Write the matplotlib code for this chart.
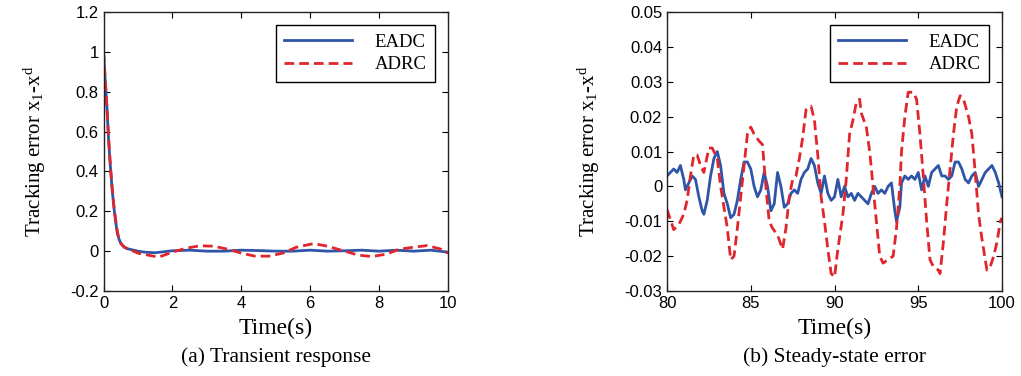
import numpy as np
import matplotlib
matplotlib.use("Agg")
import matplotlib.pyplot as plt

plt.rcParams['font.family'] = ['Liberation Sans', 'DejaVu Sans']
plt.rcParams['mathtext.fontset'] = 'custom'
plt.rcParams['mathtext.rm'] = 'Liberation Serif'
plt.rcParams['mathtext.it'] = 'Liberation Serif'

# (a) transient response
t_a = [0, 0.05, 0.1, 0.15, 0.2, 0.25, 0.3, 0.35, 0.4, 0.45, 0.5, 0.6, 0.7, 0.8, 1.0,
       1.2, 1.5, 2.0, 2.5, 3.0, 3.5, 4.0, 4.5, 5.0, 5.5, 6.0, 6.5, 7.0, 7.5, 8.0, 8.5,
       9.0, 9.5, 10.0]
eadc_a = [1.0, 0.85, 0.72, 0.55, 0.42, 0.31, 0.22, 0.15, 0.09, 0.06, 0.04, 0.02, 0.012,
          0.008, 0.0, -0.005, -0.008, 0.002, 0.005, 0.0, 0.0, 0.005, 0.003, 0.0, 0.0,
          0.005, 0.0, 0.002, 0.005, 0.0, 0.005, 0.0, 0.005, -0.005]
t_a2 = [0, 0.05, 0.1, 0.15, 0.2, 0.25, 0.3, 0.35, 0.4, 0.45, 0.5, 0.6, 0.8, 1.0, 1.3,
        1.6, 2.0, 2.4, 2.8, 3.2, 3.6, 4.0, 4.4, 4.8, 5.2, 5.6, 6.1, 6.5, 7.0, 7.4, 7.8,
        8.2, 8.6, 9.0, 9.4, 9.8, 10.0]
adrc_a = [1.0, 0.86, 0.72, 0.56, 0.43, 0.32, 0.23, 0.16, 0.1, 0.06, 0.04, 0.02, 0.005,
          -0.01, -0.02, -0.03, -0.005, 0.015, 0.027, 0.025, 0.01, -0.01, -0.025, -0.025,
          -0.01, 0.02, 0.038, 0.025, 0.0, -0.02, -0.027, -0.015, 0.01, 0.02, 0.028,
          0.01, -0.01]

# (b) steady-state error
t_b = [80.0, 80.2, 80.4, 80.6, 80.8, 81.0, 81.1, 81.3, 81.5, 81.7, 81.9, 82.1, 82.2,
       82.4, 82.6, 82.8, 83.0, 83.2, 83.4, 83.6, 83.8, 84.0, 84.2, 84.4, 84.6, 84.8,
       85.0, 85.2, 85.4, 85.6, 85.8, 86.0, 86.2, 86.4, 86.6, 86.8, 87.0, 87.2, 87.4,
       87.6, 87.8, 88.0, 88.2, 88.4, 88.6, 88.8, 89.0, 89.2, 89.4, 89.6, 89.8, 90.0,
       90.2, 90.4, 90.6, 90.8, 91.0, 91.2, 91.4, 91.6, 91.8, 92.0, 92.2, 92.4, 92.6,
       92.8, 93.0, 93.2, 93.4, 93.6, 93.7, 93.9, 94.0, 94.2, 94.4, 94.6, 94.8, 95.0,
       95.2, 95.4, 95.6, 95.8, 96.0, 96.2, 96.4, 96.6, 96.8, 97.0, 97.2, 97.4, 97.6,
       97.8, 98.0, 98.2, 98.4, 98.6, 98.8, 99.0, 99.2, 99.4, 99.6, 99.8, 100.0]
eadc_b = [0.003, 0.004, 0.005, 0.004, 0.006, 0.002, -0.001, 0.001, 0.003, 0.002,
          -0.003, -0.007, -0.008, -0.004, 0.003, 0.008, 0.010, 0.006, -0.002, -0.005,
          -0.009, -0.008, -0.004, 0.002, 0.007, 0.007, 0.005, 0.000, -0.003, -0.001,
          0.004, 0.000, -0.007, -0.005, 0.004, 0.000, -0.006, -0.005, -0.002, -0.001,
          -0.002, 0.002, 0.004, 0.005, 0.008, 0.006, 0.001, -0.002, 0.003, -0.002,
          -0.004, -0.003, 0.002, -0.003, 0.000, -0.003, -0.002, -0.004, -0.002, -0.003,
          -0.004, -0.005, -0.002, 0.000, -0.002, -0.001, -0.002, 0.000, 0.001, -0.007,
          -0.010, -0.006, 0.001, 0.003, 0.002, 0.003, 0.002, 0.004, -0.001, 0.003,
          0.000, 0.004, 0.005, 0.006, 0.003, 0.003, 0.002, 0.003, 0.007, 0.007, 0.005,
          0.002, 0.001, 0.003, 0.004, 0.000, 0.002, 0.004, 0.005, 0.006, 0.004, 0.001,
          -0.003]
t_b2 = [80.0, 80.4, 80.7, 81.0, 81.2, 81.4, 81.6, 81.8, 82.0, 82.2, 82.5, 82.7, 83.0,
        83.2, 83.4, 83.6, 83.8, 84.0, 84.2, 84.4, 84.6, 84.8, 85.0, 85.2, 85.5, 85.7,
        85.9, 86.1, 86.3, 86.6, 86.9, 87.1, 87.3, 87.5, 87.7, 87.9, 88.1, 88.3, 88.6,
        88.8, 89.0, 89.2, 89.4, 89.6, 89.8, 90.0, 90.2, 90.5, 90.7, 90.9, 91.1, 91.3,
        91.5, 91.6, 91.9, 92.1, 92.3, 92.5, 92.7, 92.9, 93.2, 93.5, 93.7, 93.9, 94.0,
        94.2, 94.4, 94.7, 94.9, 95.1, 95.3, 95.5, 95.7, 95.9, 96.2, 96.3, 96.5, 96.7,
        96.9, 97.1, 97.3, 97.5, 97.7, 98.0, 98.2, 98.4, 98.6, 98.8, 99.1, 99.3, 99.5,
        99.7, 99.9, 100.0]
adrc_b = [-0.0066, -0.0124, -0.011, -0.008, -0.004, 0.003, 0.009, 0.009, 0.006, 0.004,
          0.011, 0.011, 0.008, 0.000, -0.006, -0.012, -0.021, -0.020, -0.012, -0.003,
          0.006, 0.015, 0.017, 0.015, 0.013, 0.012, 0.000, -0.010, -0.012, -0.014,
          -0.018, -0.012, -0.003, 0.002, 0.003, 0.008, 0.014, 0.022, 0.023, 0.019,
          0.009, -0.003, -0.010, -0.018, -0.025, -0.026, -0.018, -0.008, 0.002, 0.015,
          0.019, 0.024, 0.025, 0.021, 0.017, 0.010, 0.000, -0.010, -0.020, -0.022,
          -0.021, -0.020, -0.012, 0.000, 0.010, 0.020, 0.027, 0.027, 0.025, 0.015,
          0.003, -0.010, -0.021, -0.023, -0.024, -0.025, -0.016, -0.005, 0.005, 0.015,
          0.023, 0.026, 0.025, 0.020, 0.015, 0.004, -0.008, -0.015, -0.024, -0.023,
          -0.020, -0.016, -0.010, -0.009]

blue = '#2f55a8'
red = '#e0262c'
serif = ['Liberation Serif', 'DejaVu Serif']

fig = plt.figure(figsize=(10.21, 3.76), dpi=100)
ax1 = fig.add_axes([0.1014, 0.226, 0.3374, 0.742])
ax2 = fig.add_axes([0.6533, 0.226, 0.3281, 0.742])

panels = [
    (ax1, t_a, eadc_a, t_a2, adrc_a, (0, 10), (-0.2, 1.2),
     np.arange(0, 11, 2), np.arange(-0.2, 1.21, 0.2), '(a) Transient response', 16),
    (ax2, t_b, eadc_b, t_b2, adrc_b, (80, 100), (-0.03, 0.05),
     np.arange(80, 101, 5), np.arange(-0.03, 0.051, 0.01), '(b) Steady-state error', 16),
]

for ax, tx, ye, tx2, yr, xl, yl, xt, yt, cap, ypad in panels:
    ax.plot(tx, ye, color=blue, lw=2.0, label='EADC')
    ax.plot(tx2, yr, color=red, lw=2.0, ls=(0, (3.5, 1.8)), label='ADRC')
    ax.set_xlim(*xl)
    ax.set_ylim(*yl)
    ax.set_xticks(xt)
    ax.set_yticks(yt)
    ax.set_yticklabels(['%g' % round(v, 3) for v in yt])
    ax.tick_params(direction='in', top=True, right=True, labelsize=12, length=4)
    for s in ax.spines.values():
        s.set_linewidth(1.0)
        s.set_color('#222222')
    ax.set_xlabel('Time(s)', family=serif, fontsize=17, labelpad=5)
    ax.set_ylabel(r'Tracking error x$_\mathrm{1}$-x$^\mathrm{d}$', family=serif,
                  fontsize=15, labelpad=ypad)
    leg = ax.legend(loc='upper right', prop={'family': serif, 'size': 13.5},
                    handlelength=3.6, fancybox=False, framealpha=1,
                    borderaxespad=0.7, labelspacing=0.3, handletextpad=1.2,
                    borderpad=0.45)
    leg.get_frame().set_edgecolor('black')
    leg.get_frame().set_linewidth(1.0)
    ax.text(0.5, -0.2, cap, transform=ax.transAxes, ha='center', va='top',
            family=serif, fontsize=15.5)

fig.savefig('out.png', dpi=100)
